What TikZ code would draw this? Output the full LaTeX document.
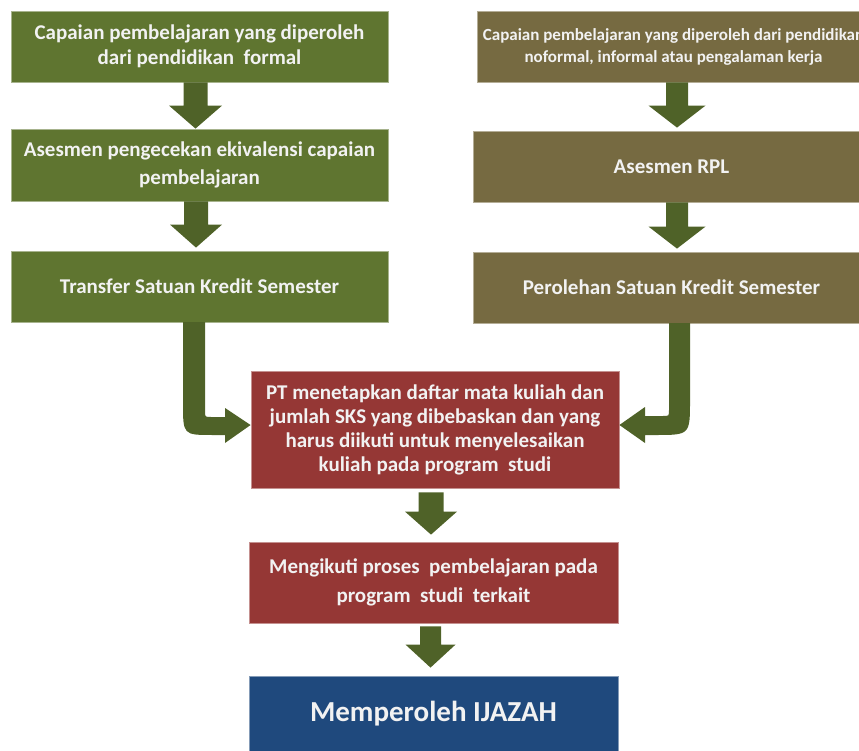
\documentclass[tikz,border=0pt]{standalone}
\usepackage{fontspec}
\setmainfont{Carlito}
\usetikzlibrary{calc}
\definecolor{greenbox}{HTML}{5F7530}
\definecolor{olivebox}{HTML}{766A41}
\definecolor{redbox}{HTML}{953735}
\definecolor{bluebox}{HTML}{1F497D}
\definecolor{arrowgreen}{HTML}{4F6228}
\definecolor{textc}{HTML}{F2F2F2}
\newcommand\fatdown[5]{%
  \fill[arrowgreen] let \p1=#1, \p2=#2 in
  (\x1-#3,\y1) -- (\x1-#3,\y2+#5) -- (\x1-#4,\y2+#5) -- (\x1,\y2) --
  (\x1+#4,\y2+#5) -- (\x1+#3,\y2+#5) -- (\x1+#3,\y1) -- cycle;}
\tikzset{
  box/.style={rectangle, inner sep=0pt, align=center, text=textc,
    line width=0.8pt, font=\bfseries\fontsize{21}{25}\selectfont},
  gbox/.style={box, fill=greenbox, draw=greenbox!55!white},
  obox/.style={box, fill=olivebox, draw=olivebox!55!white},
  rbox/.style={box, fill=redbox, draw=redbox!55!white},
  bbox/.style={box, fill=bluebox, draw=bluebox!55!white},
}
\begin{document}
\begin{tikzpicture}[x=1pt,y=-1pt]
\useasboundingbox (0,0) rectangle (859,751);
\clip (0,0) rectangle (859,751);
% left column
\node[gbox, minimum width=377pt, minimum height=71pt] (L1) at (199.5,46.5)
  {Capaian pembelajaran yang diperoleh\\dari pendidikan\ \ formal};
\node[gbox, minimum width=377pt, minimum height=72pt,
  font=\bfseries\fontsize{21}{28}\selectfont] (L2) at (199.5,165)
  {Asesmen pengecekan ekivalensi capaian\\pembelajaran};
\node[gbox, minimum width=377pt, minimum height=71pt] (L3) at (199.5,286.5)
  {Transfer Satuan Kredit Semester};
% right column
\node[obox, minimum width=393pt, minimum height=71pt,
  font=\bfseries\fontsize{17}{22}\selectfont] (R1) at (673.5,46.5)
  {Capaian pembelajaran yang diperoleh dari pendidikan\\noformal, informal atau pengalaman kerja};
\node[obox, minimum width=397pt, minimum height=71pt] (R2) at (671.5,166.5)
  {Asesmen RPL};
\node[obox, minimum width=397pt, minimum height=71pt] (R3) at (671.5,287.5)
  {Perolehan Satuan Kredit Semester};
% center
\node[rbox, minimum width=368pt, minimum height=117pt,
  font=\bfseries\fontsize{21}{24}\selectfont] (C) at (435,429.5)
  {PT menetapkan daftar mata kuliah dan\\jumlah SKS yang dibebaskan dan yang\\harus diikuti untuk menyelesaikan\\kuliah pada program\ \ studi};
\node[rbox, minimum width=369pt, minimum height=81pt,
  font=\bfseries\fontsize{21}{29}\selectfont] (M) at (433.5,582.5)
  {Mengikuti proses\ \ pembelajaran pada\\program\ \ studi\ \ terkait};
\node[bbox, minimum width=369pt, minimum height=76pt,
  font=\bfseries\fontsize{29}{34}\selectfont] (I) at (433.5,714)
  {Memperoleh IJAZAH};
% straight block arrows
\fatdown{([xshift=-4pt]L1.south)}{([xshift=-4pt]L2.north)}{12pt}{26.5pt}{23pt}
\fatdown{([xshift=-3.5pt]L2.south)}{([xshift=-3.5pt,yshift=3pt]L3.north)}{12pt}{26pt}{23pt}
\fatdown{([xshift=5.5pt]R1.south-|R2.south)}{([xshift=5.5pt,yshift=3pt]R2.north)}{11pt}{28.5pt}{22pt}
\fatdown{([xshift=5.5pt]R2.south)}{([xshift=5.5pt,yshift=3pt]R3.north)}{11pt}{28.5pt}{22pt}
\fatdown{([xshift=-4pt,yshift=-4pt]C.south)}{([xshift=-3pt,yshift=7pt]M.north)}{12.5pt}{26pt}{23pt}
\fatdown{([xshift=-3pt,yshift=-3pt]M.south)}{([xshift=-3pt,yshift=8pt]I.north)}{10.5pt}{25pt}{23pt}
% curved arrows
\fill[arrowgreen] (183,322) -- (183,403) .. controls (183,435) .. (213,435) -- (225,435)
  -- (225,443) -- (C.west |- 0,425) -- (225,408) -- (225,417) -- (211,417)
  .. controls (205,417) .. (205,411) -- (205,322) -- cycle;
\fill[arrowgreen] (690,323) -- (690,400) .. controls (690,435) .. (655,435) -- (645,435)
  -- (645,443) -- (C.east |- 0,425) -- (645,407) -- (645,416) -- (663,416)
  .. controls (669,416) .. (669,410) -- (669,323) -- cycle;
\end{tikzpicture}
\end{document}
